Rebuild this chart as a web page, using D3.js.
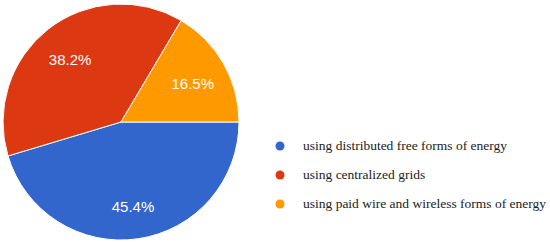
<!DOCTYPE html>
<meta charset="utf-8">
<script src="https://d3js.org/d3.v7.min.js"></script>
<style>
  body { margin: 0; background: #fff; }
</style>
<div id="chart"></div>
<script>

// data
const labels = ["using distributed free forms of energy", "using centralized grids", "using paid wire and wireless forms of energy"];
const values = [45.4, 38.2, 16.5];
const colors = ["#3366cc", "#dc3912", "#ff9900"];

const width = 550, height = 245;
const cx = 121, cy = 122, radius = 118;

const svg = d3.select("#chart")
  .append("svg")
    .attr("width", width)
    .attr("height", height);

const pie = d3.pie()
  .sort(null)
  .startAngle(Math.PI / 2)
  .endAngle(Math.PI / 2 + 2 * Math.PI);

const arc = d3.arc().innerRadius(0).outerRadius(radius);
const labelArc = d3.arc().innerRadius(radius * 0.7).outerRadius(radius * 0.7);

const arcs = pie(values);

const g = svg.append("g")
  .attr("transform", `translate(${cx},${cy})`);

g.selectAll("path")
  .data(arcs)
  .join("path")
    .attr("d", arc)
    .attr("fill", (d, i) => colors[i])
    .attr("stroke", "#fff")
    .attr("stroke-width", 1);

g.selectAll("text")
  .data(arcs)
  .join("text")
    .attr("transform", d => `translate(${labelArc.centroid(d)})`)
    .attr("text-anchor", "middle")
    .attr("dy", "0.55em")
    .attr("fill", "#fff")
    .style("font-family", "Arial, 'Liberation Sans', sans-serif")
    .style("font-size", "15px")
    .text(d => d.data.toFixed(1) + "%");

// legend
const legend = svg.append("g")
  .attr("transform", "translate(280,146)");

const row = legend.selectAll("g")
  .data(labels)
  .join("g")
    .attr("transform", (d, i) => `translate(0,${i * 29})`);

row.append("circle")
  .attr("r", 4.5)
  .attr("fill", (d, i) => colors[i]);

row.append("text")
  .attr("x", 23)
  .attr("dy", "0.3em")
  .attr("fill", "#222")
  .style("font-family", "'Liberation Serif', serif")
  .style("font-size", "13.5px")
  .text(d => d);

</script>
